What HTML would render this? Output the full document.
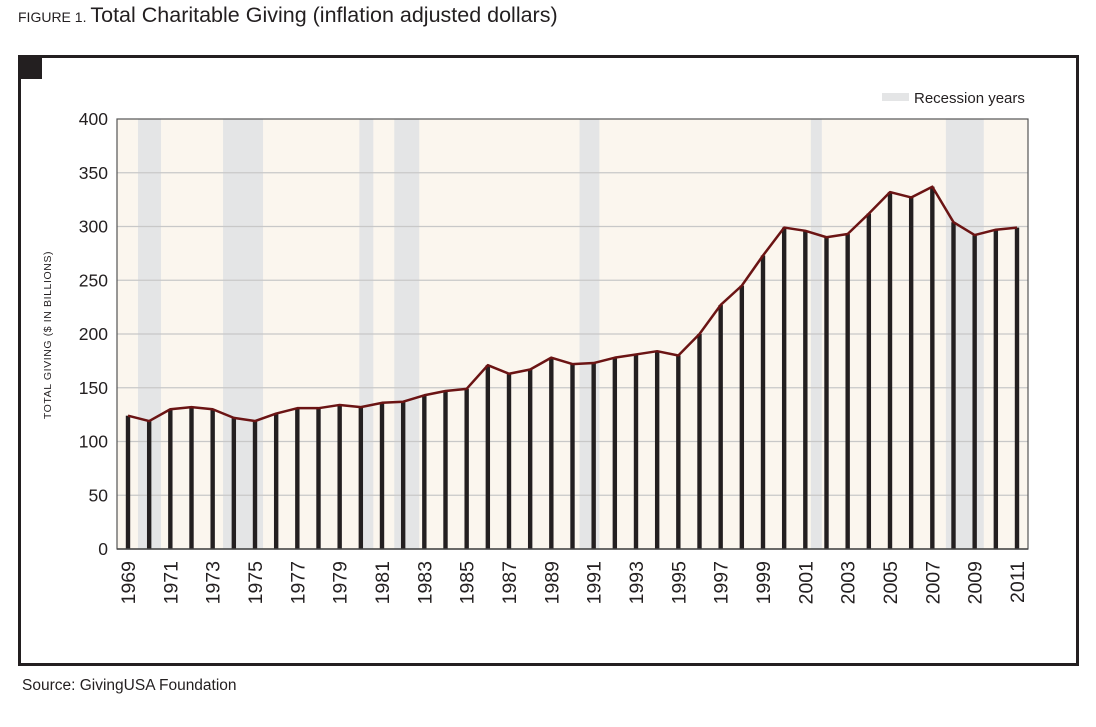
<!DOCTYPE html>
<html><head><meta charset="utf-8"><style>
body{margin:0;background:#fff;width:1096px;height:722px;overflow:hidden;font-family:"Liberation Sans",Arial,sans-serif}
</style></head><body>
<svg width="1096" height="722" xmlns="http://www.w3.org/2000/svg" font-family="Liberation Sans, Arial, sans-serif">
<text x="18" y="22" font-size="14" fill="#231f20">FIGURE 1. <tspan font-size="21.5">Total Charitable Giving (inflation adjusted dollars)</tspan></text>
<rect x="19.5" y="56.5" width="1058" height="608" fill="none" stroke="#231f20" stroke-width="3"/>
<rect x="20" y="57" width="22" height="22" fill="#231f20"/>
<rect x="882" y="93" width="27" height="8" fill="#e4e5e6"/>
<text x="914" y="103" font-size="15" fill="#231f20">Recession years</text>
<text x="51" y="335" font-size="10.5" fill="#231f20" text-anchor="middle" letter-spacing="0.6" transform="rotate(-90 51 335)">TOTAL GIVING ($ IN BILLIONS)</text>
<g id="plot"></g>
<text x="22" y="690" font-size="15.5" fill="#231f20">Source: GivingUSA Foundation</text>
</svg>
<script>
const years=[1969,1970,1971,1972,1973,1974,1975,1976,1977,1978,1979,1980,1981,1982,1983,1984,1985,1986,1987,1988,1989,1990,1991,1992,1993,1994,1995,1996,1997,1998,1999,2000,2001,2002,2003,2004,2005,2006,2007,2008,2009,2010,2011];
const giving=[124,119,130,132,130,122,119,126,131,131,134,132,136,137,143,147,149,171,163,167,178,172,173,178,181,184,180,200,227,245,273,299,296,290,293,312,332,327,337,304,292,297,299];
const recessionStart=[1969.47,1973.49,1979.93,1981.58,1990.33,2001.26,2007.64];
const recessionEnd=[1970.56,1975.38,1980.59,1982.76,1991.27,2001.78,2009.43];
const yTicks=[0,50,100,150,200,250,300,350,400];
const xLabels=[1969,1971,1973,1975,1977,1979,1981,1983,1985,1987,1989,1991,1993,1995,1997,1999,2001,2003,2005,2007,2009,2011];
const NS="http://www.w3.org/2000/svg";
const L=117,R=1028,T=119,B=549;
const xs=y=>128+(y-1969)*(1017-128)/42;
const ys=v=>B-(v/400)*(B-T);
const g=document.getElementById('plot');
function mk(tag,attrs){const e=document.createElementNS(NS,tag);for(const k in attrs)e.setAttribute(k,attrs[k]);g.appendChild(e);return e;}
let bg=mk('rect',{x:L,y:T,width:R-L,height:B-T,fill:'#fbf6ee'});


recessionStart.forEach((s,i)=>{
  const r=mk('rect',{x:xs(s),y:T,width:xs(recessionEnd[i])-xs(s),height:B-T,fill:'#e4e5e6'});
  
  
});
yTicks.forEach(t=>{
  if(t>0&&t<400){const l=mk('line',{x1:L,x2:R,y1:ys(t),y2:ys(t),stroke:'#c8c8c8','stroke-width':1.2});
  
  }
  const tx=mk('text',{x:108,y:ys(t)+6,'font-size':17.5,'text-anchor':'end',fill:'#231f20'});
  tx.textContent=t;
  
  
});
let fr=mk('rect',{x:L,y:T,width:R-L,height:B-T,fill:'none',stroke:'#555','stroke-width':1.2});


years.forEach((y,i)=>{
  const b=mk('rect',{x:xs(y)-2.2,y:ys(giving[i]),width:4.4,height:B-ys(giving[i]),fill:'#231f20'});
  
  
});
const ln=mk('polyline',{points:years.map((y,i)=>xs(y)+','+ys(giving[i])).join(' '),fill:'none',stroke:'#6b1414','stroke-width':2.5,'stroke-linejoin':'round'});


let ax=mk('line',{x1:L,x2:R,y1:B,y2:B,stroke:'#444','stroke-width':1.5});


xLabels.forEach(y=>{
  const x=xs(y)+7,yy=561;
  const t=mk('text',{x:x,y:yy,'font-size':19.5,'text-anchor':'end',fill:'#231f20',transform:`rotate(-90 ${x} ${yy})`});
  t.textContent=y;
  
  
});
</script>
</body></html>
